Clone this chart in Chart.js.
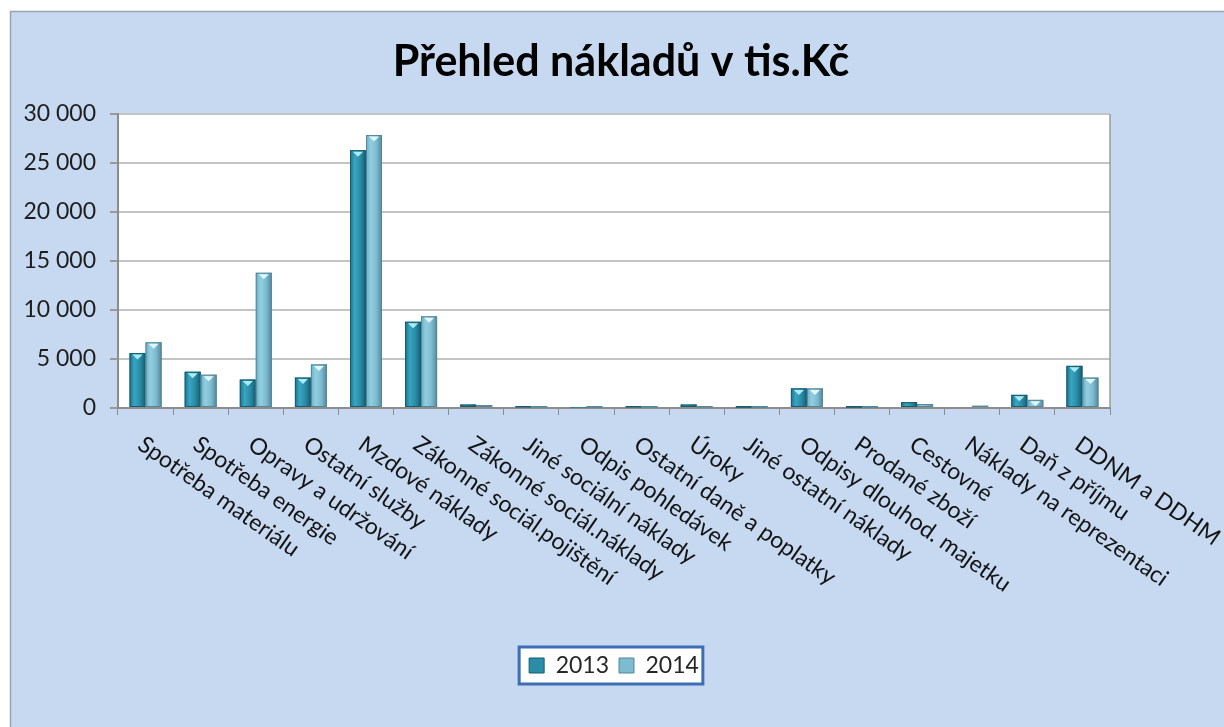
<!DOCTYPE html>
<html>
<head>
<meta charset="utf-8">
<script src="https://cdn.jsdelivr.net/npm/chart.js@4.4.0/dist/chart.umd.min.js"></script>
<style>
  body { margin: 0; background: #fff; }
  canvas { display: block; }
</style>
</head>
<body>
<canvas id="costChart" width="1224" height="727"></canvas>
<script>
// data (tis. Kč)
const categories = [
  'Spotřeba materiálu', 'Spotřeba energie', 'Opravy a udržování', 'Ostatní služby',
  'Mzdové náklady', 'Zákonné sociál.pojištění', 'Zákonné sociál.náklady',
  'Jiné sociální náklady', 'Odpis pohledávek', 'Ostatní daně a poplatky', 'Úroky',
  'Jiné ostatní náklady', 'Odpisy dlouhod. majetku', 'Prodané zboží', 'Cestovné',
  'Náklady na reprezentaci', 'Daň z příjmu', 'DDNM a DDHM'
];
const years = ['2013', '2014'];
const costs2013 = [5600, 3700, 2900, 3100, 26300, 8800, 350, 150, 10, 150, 350, 120, 2000, 120, 590, 100, 1340, 4300];
const costs2014 = [6700, 3400, 13800, 4450, 27850, 9350, 300, 150, 120, 150, 150, 120, 2000, 120, 400, 230, 830, 3100];
const yMax = 30000;
const yStep = 5000;

const titleText = 'Přehled nákladů v tis.Kč';
const FONT = 'Lato, "Open Sans", sans-serif';

// bar shading: [edge, light, mid, dark edge, top highlight]
const shades = [
  ['#1d7189', '#38a6c2', '#2a8ca6', '#175c6f', '#a9ecf9'],
  ['#6aafc4', '#92cee0', '#7dbbd0', '#55879a', '#e2f7fc']
];

const fmt = v => String(v).replace(/\B(?=(\d{3})+(?!\d))/g, ' ');

// background, plot area and legend frame
const backdrop = {
  id: 'backdrop',
  beforeDraw(chart) {
    const { ctx, chartArea: a, width, height } = chart;
    ctx.save();
    ctx.fillStyle = '#fff';
    ctx.fillRect(0, 0, width, height);
    ctx.fillStyle = '#c6d9f0';
    ctx.fillRect(10, 11, width - 10, height - 11);
    ctx.strokeStyle = '#9aa3ad';
    ctx.lineWidth = 1.5;
    ctx.strokeRect(10.5, 11.5, width, height);
    ctx.fillStyle = '#fff';
    ctx.fillRect(a.left, a.top, a.right - a.left, a.bottom - a.top);

    const boxes = chart.legend.legendHitBoxes;
    if (boxes && boxes.length) {
      const l = Math.min(...boxes.map(b => b.left)) - 10;
      const r = Math.max(...boxes.map(b => b.left + b.width)) + 4;
      const t = Math.min(...boxes.map(b => b.top)) - 7;
      const btm = Math.max(...boxes.map(b => b.top + b.height)) + 7;
      ctx.fillStyle = '#fff';
      ctx.fillRect(l, t, r - l, btm - t);
      ctx.strokeStyle = '#3d6db5';
      ctx.lineWidth = 3;
      ctx.strokeRect(l, t, r - l, btm - t);
    }
    ctx.restore();
  }
};

// shaded "cylinder" look on top of the library's bars
const barShade = {
  id: 'barShade',
  afterDatasetsDraw(chart) {
    const ctx = chart.ctx;
    ctx.save();
    chart.data.datasets.forEach((ds, di) => {
      const s = shades[di];
      chart.getDatasetMeta(di).data.forEach(bar => {
        const { x, y, base, width } = bar.getProps(['x', 'y', 'base', 'width'], true);
        const left = x - width / 2;
        const h = base - y;
        if (h <= 0) return;
        const g = ctx.createLinearGradient(left, 0, left + width, 0);
        g.addColorStop(0, s[0]);
        g.addColorStop(0.3, s[1]);
        g.addColorStop(0.65, s[2]);
        g.addColorStop(1, s[3]);
        ctx.fillStyle = g;
        ctx.fillRect(left, y, width, h);
        ctx.strokeStyle = s[3];
        ctx.lineWidth = 1;
        ctx.strokeRect(left + 0.5, y + 0.5, width - 1, h - 1);
        if (h > 7) {
          ctx.fillStyle = s[4];
          ctx.beginPath();
          ctx.moveTo(x - width * 0.32, y + 1.5);
          ctx.lineTo(x + width * 0.32, y + 1.5);
          ctx.lineTo(x, y + 6.5);
          ctx.closePath();
          ctx.fill();
        }
      });
    });
    ctx.restore();
  }
};

// title and slanted category labels
const texts = {
  id: 'texts',
  afterDraw(chart) {
    const { ctx, chartArea: a } = chart;
    const xs = chart.scales.x;
    ctx.save();
    // right edge of plot frame
    ctx.strokeStyle = '#9a9a9a';
    ctx.lineWidth = 1.5;
    ctx.beginPath();
    ctx.moveTo(a.right, a.top);
    ctx.lineTo(a.right, a.bottom);
    ctx.stroke();

    ctx.fillStyle = '#000';
    ctx.font = 'bold 43px ' + FONT;
    ctx.textAlign = 'center';
    ctx.textBaseline = 'middle';
    ctx.fillText(titleText, 621, 62);

    ctx.fillStyle = '#141414';
    ctx.font = '23px ' + FONT;
    ctx.textAlign = 'left';
    ctx.textBaseline = 'middle';
    categories.forEach((c, i) => {
      const px = xs.getPixelForTick(i);
      ctx.save();
      ctx.translate(px - 5, a.bottom + 34);
      ctx.rotate(35 * Math.PI / 180);
      ctx.fillText(c, 0, 0);
      ctx.restore();
    });
    ctx.restore();
  }
};

new Chart(document.getElementById('costChart').getContext('2d'), {
  type: 'bar',
  data: {
    labels: categories,
    datasets: [
      { label: years[0], data: costs2013, backgroundColor: shades[0][2], borderColor: shades[0][3], borderWidth: 1 },
      { label: years[1], data: costs2014, backgroundColor: shades[1][2], borderColor: shades[1][3], borderWidth: 1 }
    ]
  },
  options: {
    responsive: false,
    animation: false,
    layout: { padding: { left: 12, right: 114, top: 114, bottom: 40 } },
    datasets: { bar: { categoryPercentage: 0.58, barPercentage: 1.0 } },
    plugins: {
      title: { display: false },
      tooltip: { enabled: false },
      legend: {
        position: 'bottom',
        fullSize: false,
        labels: {
          boxWidth: 15,
          boxHeight: 15,
          padding: 10,
          color: '#262626',
          font: { family: FONT, size: 23 }
        }
      }
    },
    scales: {
      x: {
        offset: true,
        grid: { offset: true, drawOnChartArea: false, drawTicks: true, tickLength: 7, color: '#8c8c8c' },
        border: { color: '#8c8c8c', width: 2 },
        ticks: { display: false },
        afterFit: s => { s.height = 236; }
      },
      y: {
        min: 0,
        max: yMax,
        ticks: {
          stepSize: yStep,
          padding: 14,
          color: '#1e1e1e',
          font: { family: FONT, size: 23 },
          callback: v => fmt(v)
        },
        grid: { color: '#c4c4c4', lineWidth: 2, tickLength: 8, tickColor: '#9a9a9a' },
        border: { color: '#8c8c8c', width: 2 },
        afterFit: s => { s.width = 106; }
      }
    }
  },
  plugins: [backdrop, barShade, texts]
});
</script>
</body>
</html>
